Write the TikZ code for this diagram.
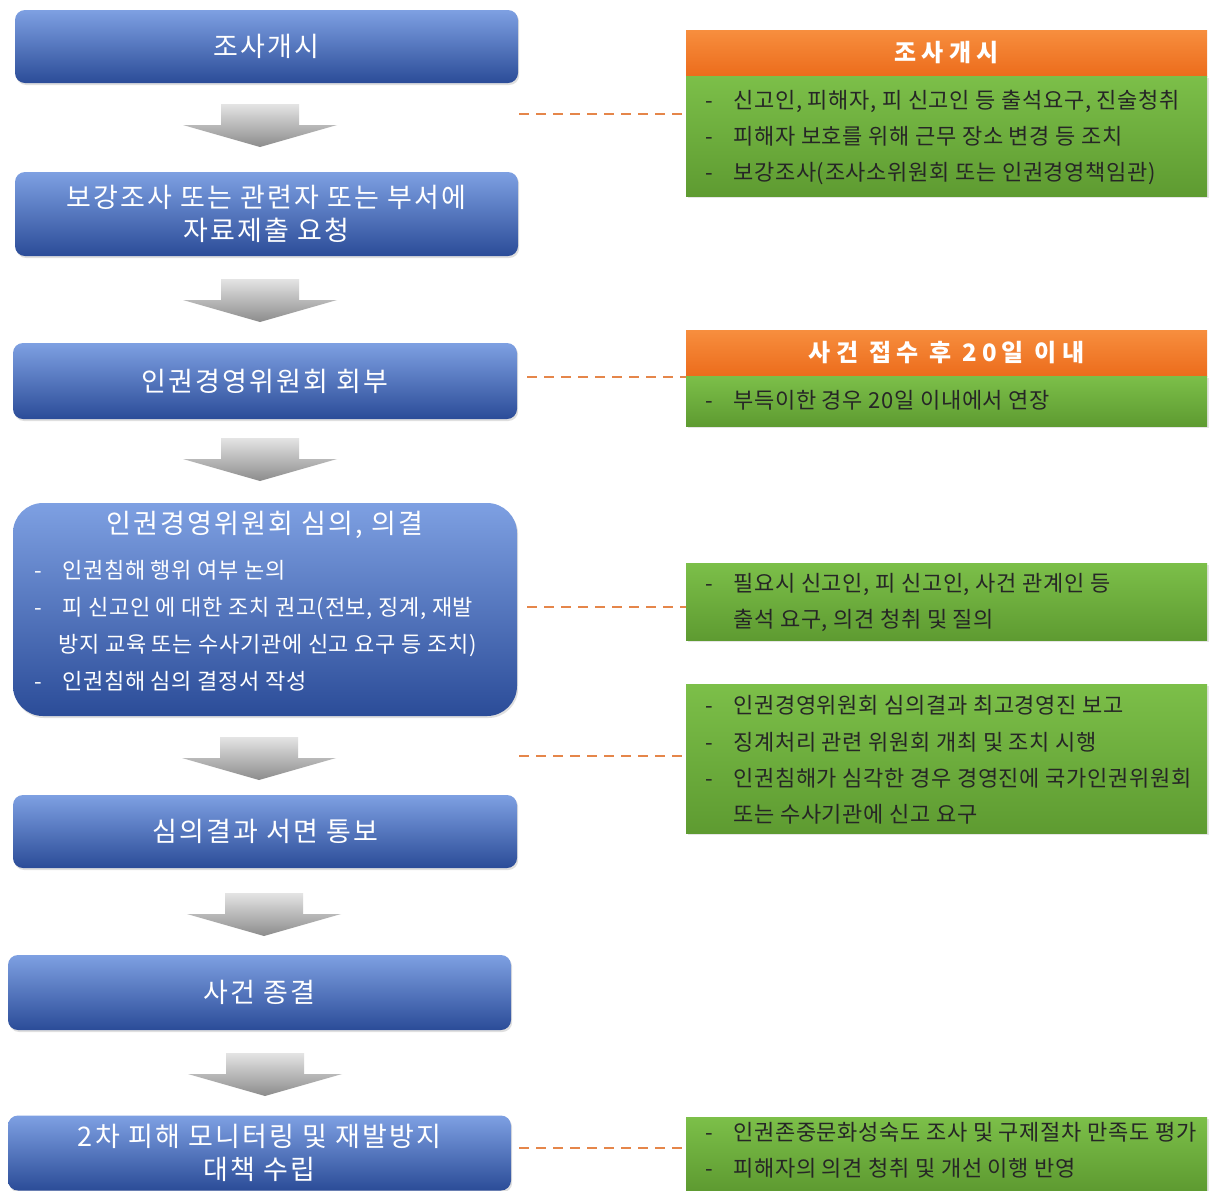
\documentclass[tikz,border=0pt]{standalone}
\usepackage{fontspec}
\setmainfont{Noto Sans CJK KR}
\newfontfamily\ttlfont[LetterSpace=8]{Noto Sans CJK KR}
\newfontfamily\bodyfont[LetterSpace=3]{Noto Sans CJK KR}
\newfontfamily\hdrfont[LetterSpace=22]{Noto Sans CJK KR}
\usetikzlibrary{shadows}
\definecolor{blueT}{HTML}{7EA0E2}
\definecolor{blueM}{HTML}{4A73C4}
\definecolor{blueB}{HTML}{2B4C98}
\definecolor{grnT}{HTML}{7CBF49}
\definecolor{grnB}{HTML}{5E9B31}
\definecolor{orT}{HTML}{F78E3E}
\definecolor{orB}{HTML}{EC6C1C}
\definecolor{dashc}{HTML}{E5864A}
\definecolor{arrT}{HTML}{E4E4E4}
\definecolor{arrB}{HTML}{8C8C8C}
\newcommand\itm{\makebox[14pt][l]{-}}
\newcommand\ind{\hspace*{14pt}}
\begin{document}
\begin{tikzpicture}[x=0.5pt,y=-0.5pt,
  bluebox/.style={rounded corners=5pt, top color=blueT, middle color=blueM, bottom color=blueB,
    minimum width=251.5pt, inner sep=0pt, text=white, align=center,
    font=\ttlfont\fontsize{13.5}{16.5}\selectfont,
    drop shadow={opacity=0.25,shadow xshift=0.6pt,shadow yshift=-1pt}},
  grnbox/.style={rectangle, top color=grnT, bottom color=grnB, minimum width=260.5pt, inner sep=0pt,
    drop shadow={opacity=0.2,shadow xshift=0.8pt,shadow yshift=-0.8pt}},
  hdrbox/.style={rectangle, top color=orT, bottom color=orB, minimum width=260.5pt, minimum height=23pt,
    inner sep=0pt, text=white, font=\hdrfont\bfseries\fontsize{12}{14}\selectfont},
  gtext/.style={anchor=west, align=left, inner sep=0pt, text=black!85,
    font=\bodyfont\fontsize{11}{18.2}\selectfont},
  wtext/.style={anchor=west, align=left, inner sep=0pt, text=white,
    font=\bodyfont\fontsize{11}{18.5}\selectfont},
  conn/.style={draw=dashc, line width=1.4pt, dash pattern=on 5pt off 3.5pt},
  blockarr/.pic={\path[top color=arrT, bottom color=arrB]
     (-39,0) -- (39,0) -- (39,21) -- (77,21) -- (0,43) -- (-77,21) -- (-39,21) -- cycle;}
]
\fill[white] (0,0) rectangle (1211,1190);
\useasboundingbox (0,0) rectangle (1211,1190);

% left flow boxes
\node[bluebox, minimum height=36.5pt] (b1) at (266.5,46.5) {조사개시};
\node[bluebox, minimum height=42pt] (b2) at (266.5,214) {보강조사 또는 관련자 또는 부서에\\자료제출 요청};
\node[bluebox, minimum width=252pt, minimum height=38pt] (b3) at (265,381) {인권경영위원회 회부};
\node[bluebox, rounded corners=15pt, minimum width=252pt, minimum height=106.5pt] (b4) at (265,609.5) {};
\node[inner sep=0pt, text=white, font=\ttlfont\fontsize{13.5}{16.5}\selectfont] (b4t) at (265,525) {인권경영위원회 심의, 의결};
\node[wtext] (b4l) at (34,625.5) {\itm 인권침해 행위 여부 논의\\
  \itm 피 신고인 에 대한 조치 권고(전보, 징계, 재발\\
  \hspace*{12pt}방지 교육 또는 수사기관에 신고 요구 등 조치)\\
  \itm 인권침해 심의 결정서 작성};
\node[bluebox, minimum width=252pt, minimum height=36.5pt] (b5) at (265,831.5) {심의결과 서면 통보};
\node[bluebox, minimum height=37.5pt] (b6) at (259.5,992.5) {사건 종결};
\node[bluebox, minimum height=37.5pt] (b7) at (259.5,1153) {2차 피해 모니터링 및 재발방지\\대책 수립};

% block arrows between the steps
\pic at (260,104) {blockarr};
\pic at (260,279) {blockarr};
\pic at (260,438) {blockarr};
\pic at (259,737) {blockarr};
\pic at (264,893) {blockarr};
\pic at (265,1053) {blockarr};

% right info boxes
\node[hdrbox] (hA) at (946.5,53) {조사개시};
\node[grnbox, minimum height=60pt] (gA) at (946.5,136) {};
\node[gtext] (tA) at (705,137.5) {\itm 신고인, 피해자, 피 신고인 등 출석요구, 진술청취\\
  \itm 피해자 보호를 위해 근무 장소 변경 등 조치\\
  \itm 보강조사(조사소위원회 또는 인권경영책임관)};

\node[hdrbox] (hB) at (946.5,353) {사건 접수 후 20일 이내};
\node[grnbox, minimum height=25pt] (gB) at (946.5,401) {};
\node[gtext] (tB) at (705,400) {\itm 부득이한 경우 20일 이내에서 연장};

\node[grnbox, minimum height=38.5pt] (gC) at (946.5,601.5) {};
\node[gtext] (tC) at (705,602.5) {\itm 필요시 신고인, 피 신고인, 사건 관계인 등\\
  \ind 출석 요구, 의견 청취 및 질의};

\node[grnbox, minimum height=74.5pt] (gD) at (946.5,758.5) {};
\node[gtext] (tD) at (705,760) {\itm 인권경영위원회 심의결과 최고경영진 보고\\
  \itm 징계처리 관련 위원회 개최 및 조치 시행\\
  \itm 인권침해가 심각한 경우 경영진에 국가인권위원회\\
  \ind 또는 수사기관에 신고 요구};

\node[grnbox, minimum height=36.5pt] (gE) at (946.5,1153.5) {};
\node[gtext] (tE) at (705,1150.5) {\itm 인권존중문화성숙도 조사 및 구제절차 만족도 평가\\
  \itm 피해자의 의견 청취 및 개선 이행 반영};

% dashed connectors
\coordinate (dA) at (519,114);
\coordinate (dB) at (527,377);
\coordinate (dC) at (527,607);
\coordinate (dD) at (519,756);
\coordinate (dE) at (519,1148);
\draw[conn] (dA) -- (dA -| gA.west);
\draw[conn] (dB) -- (dB -| gB.west);
\draw[conn] (dC) -- (dC -| gC.west);
\draw[conn] (dD) -- (dD -| gD.west);
\draw[conn] (dE) -- (dE -| gE.west);
\end{tikzpicture}
\end{document}
